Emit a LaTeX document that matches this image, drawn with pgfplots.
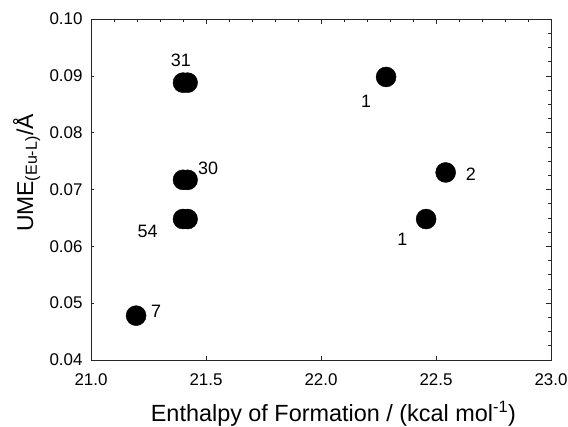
\documentclass[border=0pt]{standalone}
\usepackage{pgfplots}
\pgfplotsset{compat=1.18}
\usepackage{fontspec}
\setmainfont{Liberation Sans}

\begin{document}
\begin{tikzpicture}
  \pgfplotsset{
    common/.style={
      scale only axis, width=460bp, height=341bp,
      xmin=21, xmax=23, ymin=0.04, ymax=0.10,
      axis line style={black!85, line width=0.8bp},
      tick style={black!85, line width=0.6bp},
      tick align=inside,
    },
  }
  \begin{axis}[common,
    xtick={21,21.5,...,23}, ytick={0.04,0.05,...,0.10},
    xtick pos=left, ytick pos=left,
    major tick length=3.5bp,
    /pgf/number format/assume math mode=true,
    tick label style={font=\fontsize{17}{17}\selectfont},
    xticklabel style={/pgf/number format/.cd, fixed, fixed zerofill, precision=1},
    yticklabel style={/pgf/number format/.cd, fixed, fixed zerofill, precision=2},
    xticklabel shift=10bp, yticklabel shift=5bp,
    xlabel={Enthalpy of Formation / (kcal mol\textsuperscript{-1})},
    ylabel={UME\textsubscript{(Eu-L)}/Å},
    xlabel style={font=\fontsize{23.5}{23.5}\selectfont,
      at={(axis description cs:0.527,-0.181)}, anchor=base},
    ylabel style={font=\fontsize{23}{23}\selectfont,
      at={(axis description cs:-0.140,0.548)}, anchor=center},
  ]
    % scatter points (the 21.4 ones look like two overlapping marks)
    \addplot[only marks, mark=*, mark size=10bp, black] coordinates {
      (21.40,0.0888) (21.42,0.0888)
      (21.40,0.0717) (21.42,0.0717)
      (21.40,0.0648) (21.42,0.0648)
      (21.196,0.0478)
      (22.283,0.0898)
      (22.542,0.0730)
      (22.457,0.0648)
    };
    \begin{scope}[every node/.style={font=\fontsize{18}{18}\selectfont}]
      \node at (axis cs:21.391,0.0928) {31};
      \node at (axis cs:21.509,0.0737) {30};
      \node at (axis cs:21.246,0.0627) {54};
      \node at (axis cs:21.283,0.0486) {7};
      \node at (axis cs:22.196,0.0855) {1};
      \node at (axis cs:22.652,0.0727) {2};
      \node at (axis cs:22.354,0.0612) {1};
    \end{scope}
    \coordinate (sw) at (rel axis cs:0,0);
    \coordinate (ne) at (rel axis cs:1,1);
  \end{axis}
  % top and right ticks with minor ticks
  \begin{axis}[common,
    xtick={21,21.5,...,23}, ytick={0.04,0.05,...,0.10},
    xtick pos=right, ytick pos=right,
    minor x tick num=4, minor y tick num=3,
    major tick length=5bp, minor tick length=3.5bp,
    xticklabels={}, yticklabels={},
  ]
  \end{axis}
  \pgfresetboundingbox
  \path[use as bounding box] ([shift={(-91bp,-67bp)}]sw) rectangle ([shift={(17bp,19bp)}]ne);
\end{tikzpicture}
\end{document}
